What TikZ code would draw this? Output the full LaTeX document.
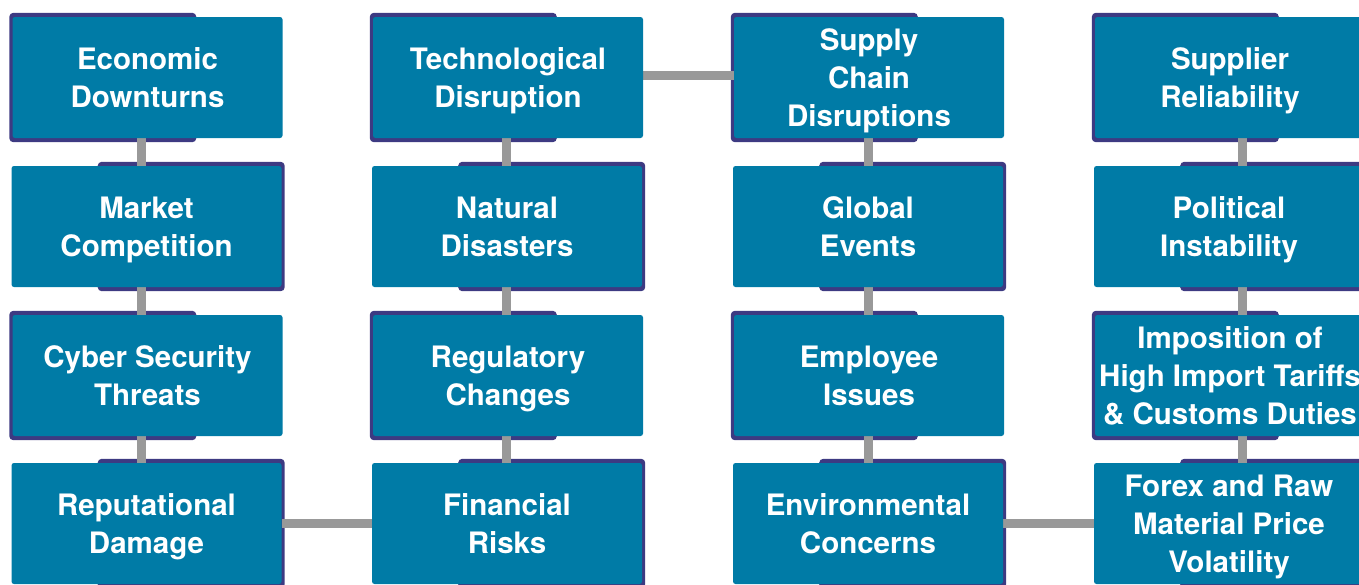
\documentclass[tikz,border=0pt]{standalone}
\usepackage{fontspec}
\setsansfont{TeX Gyre Heros}
\usepackage{tikz}
\usetikzlibrary{calc,backgrounds}

\definecolor{riskteal}{RGB}{0,123,166}
\definecolor{riskedge}{RGB}{61,58,130}
\definecolor{linkgray}{RGB}{153,153,153}

\begin{document}
\begin{tikzpicture}[x=1pt,y=-1pt]
    \tikzstyle{risk}=[rectangle, fill=riskteal, rounded corners=2.5pt, inner sep=0pt,
        minimum width=270pt, minimum height=121pt, text=white, align=center, text depth=0pt,
        font=\sffamily\bfseries\fontsize{29.5}{38}\selectfont]
    \tikzstyle{edge}=[fill=riskedge, rounded corners=4pt]
    \tikzstyle{link}=[draw=linkgray, line width=9pt]

    \useasboundingbox (0,0) rectangle (1359,584);
    \clip (0,0) rectangle (1359,584);

    % column 1
    \node[risk] (econ)   at (147.5,77.5)  {Economic\\Downturns};
    \node[risk] (market) at (146.5,226.5) {Market\\Competition};
    \node[risk] (cyber)  at (147.5,375.5) {Cyber Security\\Threats};
    \node[risk] (reput)  at (146.5,523.5) {Reputational\\Damage};
    % column 2
    \node[risk] (tech)   at (508,77.5)    {Technological\\Disruption};
    \node[risk] (nature) at (507,226.5)   {Natural\\Disasters};
    \node[risk] (regul)  at (508,375.5)   {Regulatory\\Changes};
    \node[risk] (finance) at (507,523.5)  {Financial\\Risks};
    % column 3
    \node[risk] (supply) at (869,77.5)    {Supply\\Chain\\Disruptions};
    \node[risk] (global) at (868,226.5)   {Global\\Events};
    \node[risk] (employ) at (869,375.5)   {Employee\\Issues};
    \node[risk] (environ) at (868,523.5)  {Environmental\\Concerns};
    % column 4
    \node[risk] (suppl)  at (1230,77.5)   {Supplier\\Reliability};
    \node[risk] (polit)  at (1229,226.5)  {Political\\Instability};
    \node[risk] (tariff) at (1230,375.5)  {Imposition of\\High Import Tariffs\\\& Customs Duties};
    \node[risk] (forex)  at (1229,523.5)  {Forex and Raw\\Material Price\\Volatility};

    \begin{scope}[on background layer]
        % frames behind the boxes
        \foreach \n in {econ,cyber,tech,regul,supply,employ,suppl,tariff}
            \fill[edge] ($(\n.north west)+(-3,-4)$) rectangle ($(\n.south west)+(184,4)$);
        \foreach \n in {market,reput,nature,finance,global,environ,polit,forex}
            \fill[edge] ($(\n.north east)+(-184,-4)$) rectangle ($(\n.south east)+(3,4)$);

        % links
        \draw[link] ([xshift=-6pt]econ.center) -- ([xshift=-6pt]econ.center |- reput.center);
        \draw[link] ([xshift=-2pt]tech.center) -- ([xshift=-2pt]tech.center |- finance.center);
        \draw[link] ([xshift=-1pt]supply.center) -- ([xshift=-1pt]supply.center |- environ.center);
        \draw[link] ([xshift=12pt]suppl.center) -- ([xshift=12pt]suppl.center |- forex.center);
        \draw[link] ([yshift=2.5pt]tech.center) -- ([yshift=2.5pt]supply.center);
        \draw[link] (reput) -- (finance);
        \draw[link] (environ) -- (forex);
    \end{scope}
\end{tikzpicture}
\end{document}
